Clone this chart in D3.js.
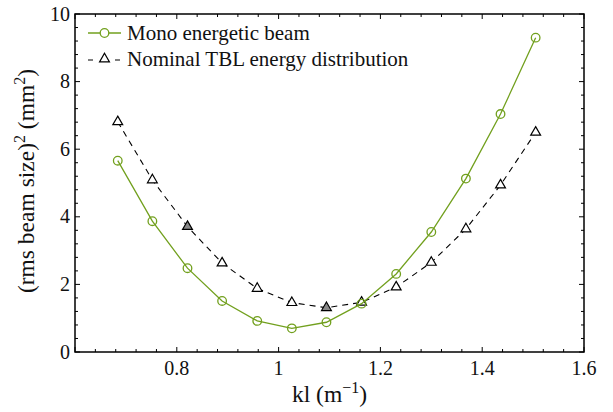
<!DOCTYPE html>
<html>
<head>
<meta charset="utf-8">
<script src="https://cdn.jsdelivr.net/npm/d3@7"></script>
<style>
  body { margin: 0; background: #fff; }
</style>
</head>
<body>
<div id="chart"></div>
<script>
// data
var kl = [0.684, 0.752, 0.821, 0.889, 0.958, 1.026, 1.094, 1.163, 1.231, 1.300, 1.368, 1.436, 1.505];
var mono = [5.66, 3.87, 2.48, 1.51, 0.92, 0.70, 0.88, 1.43, 2.31, 3.55, 5.13, 7.04, 9.30];
var nominal = [6.81, 5.09, 3.71, 2.63, 1.88, 1.46, 1.31, 1.47, 1.92, 2.65, 3.64, 4.94, 6.50];
var nominalFilled = [false, false, true, false, false, false, true, false, false, false, false, false, false];
var xTicks = [0.8, 1, 1.2, 1.4, 1.6];
var yTicks = [0, 2, 4, 6, 8, 10];
var seriesNames = ["Mono energetic beam", "Nominal TBL energy distribution"];

var W = 613, H = 412;
var m = {t: 14, r: 29, b: 60, l: 75};
var green = "#72a01e";
var FONT = "'Liberation Serif'";

var svg = d3.select("#chart").append("svg").attr("width", W).attr("height", H);

function txt(sel, size) {
  return sel.style("font-family", FONT).style("font-size", size + "px").attr("fill", "#111");
}

var x = d3.scaleLinear().domain([0.6, 1.6]).range([m.l, W - m.r]);
var y = d3.scaleLinear().domain([0, 10]).range([H - m.b, m.t]);

var g = svg.append("g");

// minor + major ticks, inward on all four sides
var xMinor = d3.range(0.6, 1.6001, 0.04);
var yMinor = d3.range(0, 10.001, 0.4);
function isMajor(v, step) { return Math.abs(v / step - Math.round(v / step)) < 1e-6; }

xMinor.forEach(function(v){
  var len = isMajor(v, 0.2) ? 5 : 3;
  g.append("line").attr("x1", x(v)).attr("x2", x(v)).attr("y1", y(0)).attr("y2", y(0) - len)
    .attr("stroke", "#000").attr("stroke-width", 1);
  g.append("line").attr("x1", x(v)).attr("x2", x(v)).attr("y1", y(10)).attr("y2", y(10) + len)
    .attr("stroke", "#000").attr("stroke-width", 1);
});
yMinor.forEach(function(v){
  var len = isMajor(v, 2) ? 5 : 3;
  g.append("line").attr("x1", x(0.6)).attr("x2", x(0.6) + len).attr("y1", y(v)).attr("y2", y(v))
    .attr("stroke", "#000").attr("stroke-width", 1);
  g.append("line").attr("x1", x(1.6)).attr("x2", x(1.6) - len).attr("y1", y(v)).attr("y2", y(v))
    .attr("stroke", "#000").attr("stroke-width", 1);
});

// frame
g.append("rect").attr("x", x(0.6)).attr("y", y(10))
  .attr("width", x(1.6) - x(0.6)).attr("height", y(0) - y(10))
  .attr("fill", "none").attr("stroke", "#000").attr("stroke-width", 1.5);

// tick labels
txt(g.selectAll(".xl").data(xTicks).enter().append("text"), 20)
  .attr("x", function(d){ return x(d); }).attr("y", y(0) + 23)
  .attr("text-anchor", "middle")
  .text(function(d){ return d; });
txt(g.selectAll(".yl").data(yTicks).enter().append("text"), 20)
  .attr("x", x(0.6) - 5).attr("y", function(d){ return y(d) + 6.5; })
  .attr("text-anchor", "end")
  .text(function(d){ return d; });

// axis titles
var xt = txt(svg.append("text"), 23.5).attr("x", (x(0.6) + x(1.6)) / 2).attr("y", 402)
  .attr("text-anchor", "middle");
xt.append("tspan").text("kl (m");
xt.append("tspan").attr("dy", -9).style("font-size", "16px").text("\u22121");
xt.append("tspan").attr("dy", 9).text(")");

var yt = txt(svg.append("text"), 23.5).attr("transform", "translate(34,181) rotate(-90)")
  .attr("text-anchor", "middle");
yt.append("tspan").text("(rms beam size)");
yt.append("tspan").attr("dy", -9).style("font-size", "16px").text("2");
yt.append("tspan").attr("dy", 9).text(" (mm");
yt.append("tspan").attr("dy", -9).style("font-size", "16px").text("2");
yt.append("tspan").attr("dy", 9).text(")");

var line = d3.line().x(function(d){ return x(d[0]); }).y(function(d){ return y(d[1]); });
var monoPts = kl.map(function(k, i){ return [k, mono[i]]; });
var nomPts = kl.map(function(k, i){ return [k, nominal[i]]; });

var tri = d3.symbol().type(d3.symbolTriangle).size(42);

// nominal (dashed black, triangles)
g.append("path").attr("d", line(nomPts)).attr("fill", "none")
  .attr("stroke", "#000").attr("stroke-width", 1.1).attr("stroke-dasharray", "6,5");
g.selectAll(".tri").data(nomPts).enter().append("path")
  .attr("d", tri)
  .attr("transform", function(d){ return "translate(" + x(d[0]) + "," + y(d[1]) + ")"; })
  .attr("fill", function(d, i){ return nominalFilled[i] ? "#888" : "#fff"; })
  .attr("stroke", "#000").attr("stroke-width", 1.2);

// mono (solid green, circles)
g.append("path").attr("d", line(monoPts)).attr("fill", "none")
  .attr("stroke", green).attr("stroke-width", 1.3);
g.selectAll(".circ").data(monoPts).enter().append("circle")
  .attr("cx", function(d){ return x(d[0]); }).attr("cy", function(d){ return y(d[1]); })
  .attr("r", 4.3).attr("fill", "none").attr("stroke", green).attr("stroke-width", 1.3);

// legend
var lg = svg.append("g");
lg.append("line").attr("x1", 88).attr("x2", 121).attr("y1", 33).attr("y2", 33)
  .attr("stroke", green).attr("stroke-width", 1.3);
lg.append("circle").attr("cx", 104.5).attr("cy", 33).attr("r", 4.3)
  .attr("fill", "#fff").attr("stroke", green).attr("stroke-width", 1.3);
txt(lg.append("text"), 21).attr("x", 127).attr("y", 39.5).text(seriesNames[0]);

lg.append("line").attr("x1", 88).attr("x2", 121).attr("y1", 60).attr("y2", 60)
  .attr("stroke", "#000").attr("stroke-width", 1.1).attr("stroke-dasharray", "5,22");
lg.append("path").attr("d", tri).attr("transform", "translate(104.5,59)")
  .attr("fill", "#fff").attr("stroke", "#000").attr("stroke-width", 1.2);
txt(lg.append("text"), 21).attr("x", 127).attr("y", 66).text(seriesNames[1]);
</script>
</body>
</html>
